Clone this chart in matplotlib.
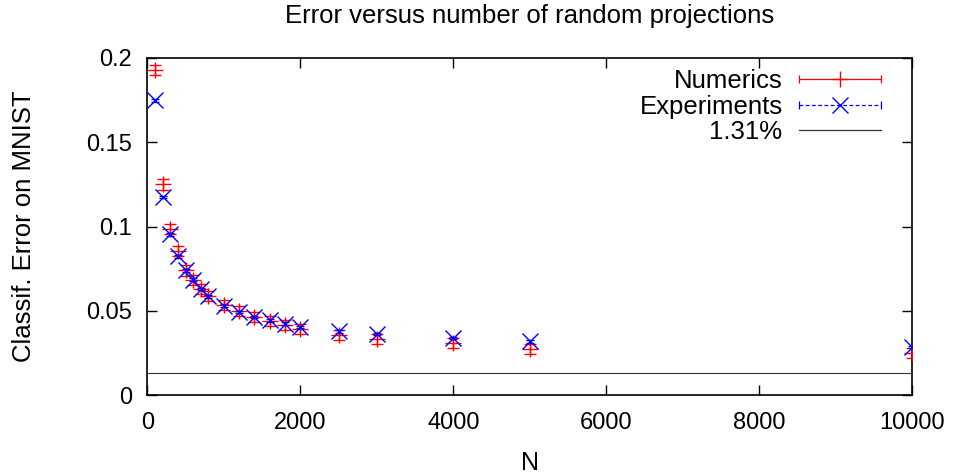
import matplotlib
matplotlib.use("Agg")
import matplotlib.pyplot as plt
from matplotlib.lines import Line2D
from matplotlib.legend_handler import HandlerBase

plt.rcParams['font.family'] = ['Liberation Sans', 'DejaVu Sans']

N = [100, 200, 300, 400, 500, 600, 700, 800, 1000, 1200, 1400, 1600, 1800,
     2000, 2500, 3000, 4000, 5000, 10000]
numerics = [0.193, 0.125, 0.0988, 0.0855, 0.074, 0.0685, 0.063, 0.059, 0.0535,
            0.0498, 0.0464, 0.0438, 0.0418, 0.0395, 0.0358, 0.0335, 0.031,
            0.0275, 0.025]
numerics_err = [0.003, 0.003, 0.003, 0.003, 0.003, 0.003, 0.003, 0.003, 0.003,
                0.003, 0.003, 0.003, 0.003, 0.003, 0.003, 0.003, 0.003, 0.003,
                0.003]
experiments = [0.1748, 0.1175, 0.0954, 0.0825, 0.074, 0.0685, 0.0631, 0.0587,
               0.0532, 0.0494, 0.0464, 0.0444, 0.0424, 0.0405, 0.0379, 0.0363,
               0.0339, 0.0319, 0.0286]
experiments_err = [0.0008] * len(N)
baseline = 0.0131

xticks = [0, 2000, 4000, 6000, 8000, 10000]
yticks = [0, 0.05, 0.1, 0.15, 0.2]
ytick_labels = ['0', '0.05', '0.1', '0.15', '0.2']


class HandlerGP(HandlerBase):
    def __init__(self, color, ls, marker, ms, mew=1.0):
        super().__init__()
        self.color, self.ls, self.marker, self.ms, self.mew = color, ls, marker, ms, mew

    def create_artists(self, legend, orig_handle, xdescent, ydescent, width,
                       height, fontsize, trans):
        y = height / 2 - ydescent
        x0, x1 = -xdescent, width - xdescent
        arts = [Line2D([x0, x1], [y, y], color=self.color, ls=self.ls, lw=0.9)]
        if self.marker is not None:
            arts.append(Line2D([x0, x1], [y, y], ls='none', marker='|',
                               ms=6, mew=0.9, color=self.color))
            arts.append(Line2D([(x0 + x1) / 2], [y], ls='none', marker=self.marker,
                               ms=self.ms, mew=self.mew, color=self.color))
        for a in arts:
            a.set_transform(trans)
        return arts


fig = plt.figure(figsize=(9.54, 4.75), dpi=100)
ax = fig.add_axes([0.1544, 0.1678, 0.8019, 0.7101])

red = '#ff0000'
blue = '#0000ff'
ax.errorbar(N, numerics, yerr=numerics_err, fmt='+', color=red, ms=11, mew=1.0,
            elinewidth=1.0, capsize=4, capthick=1.0, zorder=3)
ax.errorbar(N, experiments, yerr=experiments_err, fmt='x', color=blue, ms=11,
            mew=1.0, elinewidth=1.0, capsize=3, capthick=1.0, zorder=4)
ax.axhline(baseline, color='#333333', lw=0.8, zorder=2)

ax.set_xlim(0, 10000)
ax.set_ylim(0, 0.2)
ax.set_xticks(xticks)
ax.set_xticklabels([str(t) for t in xticks])
ax.set_yticks(yticks)
ax.set_yticklabels(ytick_labels)
ax.tick_params(direction='in', top=True, right=True, length=7, width=1.0,
               labelsize=17)
ax.tick_params(axis='x', pad=12)
ax.tick_params(axis='y', pad=11)
for s in ax.spines.values():
    s.set_linewidth(1.2)

ax.set_xlabel('N', fontsize=18)
ax.xaxis.set_label_coords(0.5, -0.165)
ax.set_ylabel('Classif. Error on MNIST', fontsize=18.5)
ax.yaxis.set_label_coords(-0.146, 0.5)
ax.set_title('Error versus number of random projections', fontsize=18.5, pad=25)

h1 = Line2D([], [])
h2 = Line2D([], [])
h3 = Line2D([], [])
leg = ax.legend([h1, h2, h3], ['Numerics', 'Experiments', '1.31%'],
                handler_map={h1: HandlerGP(red, '-', '+', 12),
                             h2: HandlerGP(blue, (0, (3, 2)), 'x', 12),
                             h3: HandlerGP('#333333', '-', None, 0)},
                loc='upper right', frameon=False, fontsize=18.5, markerfirst=False,
                handlelength=3.19, handletextpad=0.63, labelspacing=0.05,
                borderpad=0, borderaxespad=0, bbox_to_anchor=(0.9587, 0.966))

fig.savefig('out.png', dpi=100)
